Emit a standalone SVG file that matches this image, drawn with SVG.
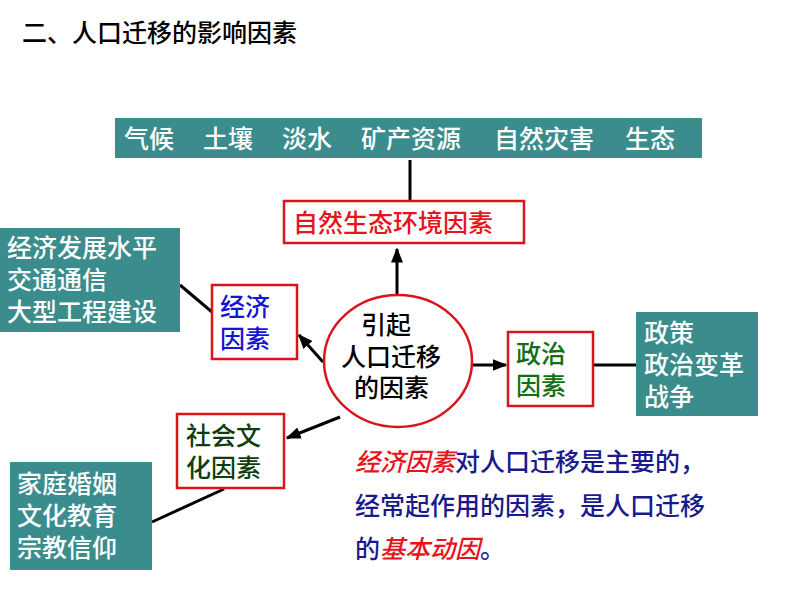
<svg xmlns="http://www.w3.org/2000/svg" width="794" height="596" viewBox="0 0 794 596">
<defs>
<marker id="ah" viewBox="0 0 10 10" refX="9" refY="5" markerWidth="5" markerHeight="5" orient="auto"><path d="M0,1 L10,5 L0,9 Z" fill="#000"/></marker>
<style>
text{font-family:"Noto Sans CJK SC","Noto Sans",sans-serif;font-weight:500}
.teal{fill:#3b8c8d}
.tw{fill:#fff;font-size:25px}
.rb{fill:#fff;stroke:#d9141b;stroke-width:2.5}
.ln{stroke:#000;stroke-width:3;fill:none}
.t{font-size:25px}
</style>
</defs>
<rect width="794" height="596" fill="#fff"/>
<text x="22" y="42" font-size="25" fill="#000" font-weight="bold">二、人口迁移的影响因素</text>
<g id="connectors">
<line class="ln" x1="410" y1="160" x2="410" y2="201"/>
<line class="ln" x1="397" y1="294" x2="397" y2="249" marker-end="url(#ah)"/>
<line class="ln" x1="323" y1="362" x2="299" y2="335" marker-end="url(#ah)"/>
<line class="ln" x1="180" y1="285" x2="212" y2="312"/>
<line class="ln" x1="473" y1="365" x2="506" y2="365" marker-end="url(#ah)"/>
<line class="ln" x1="594" y1="365" x2="636" y2="365"/>
<line class="ln" x1="340" y1="417" x2="287" y2="438" marker-end="url(#ah)"/>
<line class="ln" x1="224" y1="489" x2="152" y2="522"/>
</g>
<g id="nature-list"><rect class="teal" x="115" y="118" width="587" height="40"/>
<text class="tw" y="148"><tspan x="124">气候</tspan><tspan x="203">土壤</tspan><tspan x="282">淡水</tspan><tspan x="361">矿产资源</tspan><tspan x="494">自然灾害</tspan><tspan x="625">生态</tspan></text></g>
<g id="nature"><rect class="rb" x="284" y="201" width="240" height="42"/>
<text x="293" y="232" font-size="25" fill="#e8141b">自然生态环境因素</text></g>
<g id="center"><ellipse cx="398" cy="361" rx="74" ry="66" fill="#fff" stroke="#d9141b" stroke-width="2.5"/>
<text class="t" x="361" y="334">引起</text><text class="t" x="341" y="366">人口迁移</text><text class="t" x="354" y="397">的因素</text></g>
<g id="econ"><rect class="rb" x="212" y="285" width="85" height="74"/>
<text class="t" x="220" y="316" fill="#1414d4">经济</text><text class="t" x="220" y="348" fill="#1414d4">因素</text></g>
<g id="econ-list"><rect class="teal" x="0" y="228" width="180" height="104"/>
<text class="tw" x="7" y="257">经济发展水平</text><text class="tw" x="7" y="289">交通通信</text><text class="tw" x="7" y="321">大型工程建设</text></g>
<g id="pol"><rect class="rb" x="508" y="332" width="85" height="74"/>
<text class="t" x="516" y="363" fill="#126e12">政治</text><text class="t" x="516" y="395" fill="#126e12">因素</text></g>
<g id="pol-list"><rect class="teal" x="636" y="312" width="122" height="104"/>
<text class="tw" x="644" y="342">政策</text><text class="tw" x="644" y="374">政治变革</text><text class="tw" x="644" y="406">战争</text></g>
<g id="soc"><rect class="rb" x="177" y="414" width="107" height="74"/>
<text class="t" x="186" y="445" fill="#0f3d0f">社会文</text><text class="t" x="186" y="477" fill="#0f3d0f">化因素</text></g>
<g id="soc-list"><rect class="teal" x="10" y="462" width="142" height="108"/>
<text class="tw" x="17" y="493">家庭婚姻</text><text class="tw" x="17" y="525">文化教育</text><text class="tw" x="17" y="557">宗教信仰</text></g>
<g id="note" font-size="25">
<text x="355" y="471"><tspan fill="#e8141b" font-style="italic">经济因素</tspan><tspan fill="#1a1a8c">对人口迁移是主要的，</tspan></text>
<text x="355" y="515" fill="#1a1a8c">经常起作用的因素，是人口迁移</text>
<text x="355" y="558"><tspan fill="#1a1a8c">的</tspan><tspan fill="#e8141b" font-style="italic">基本动因</tspan><tspan fill="#1a1a8c">。</tspan></text>
</g>
</svg>
